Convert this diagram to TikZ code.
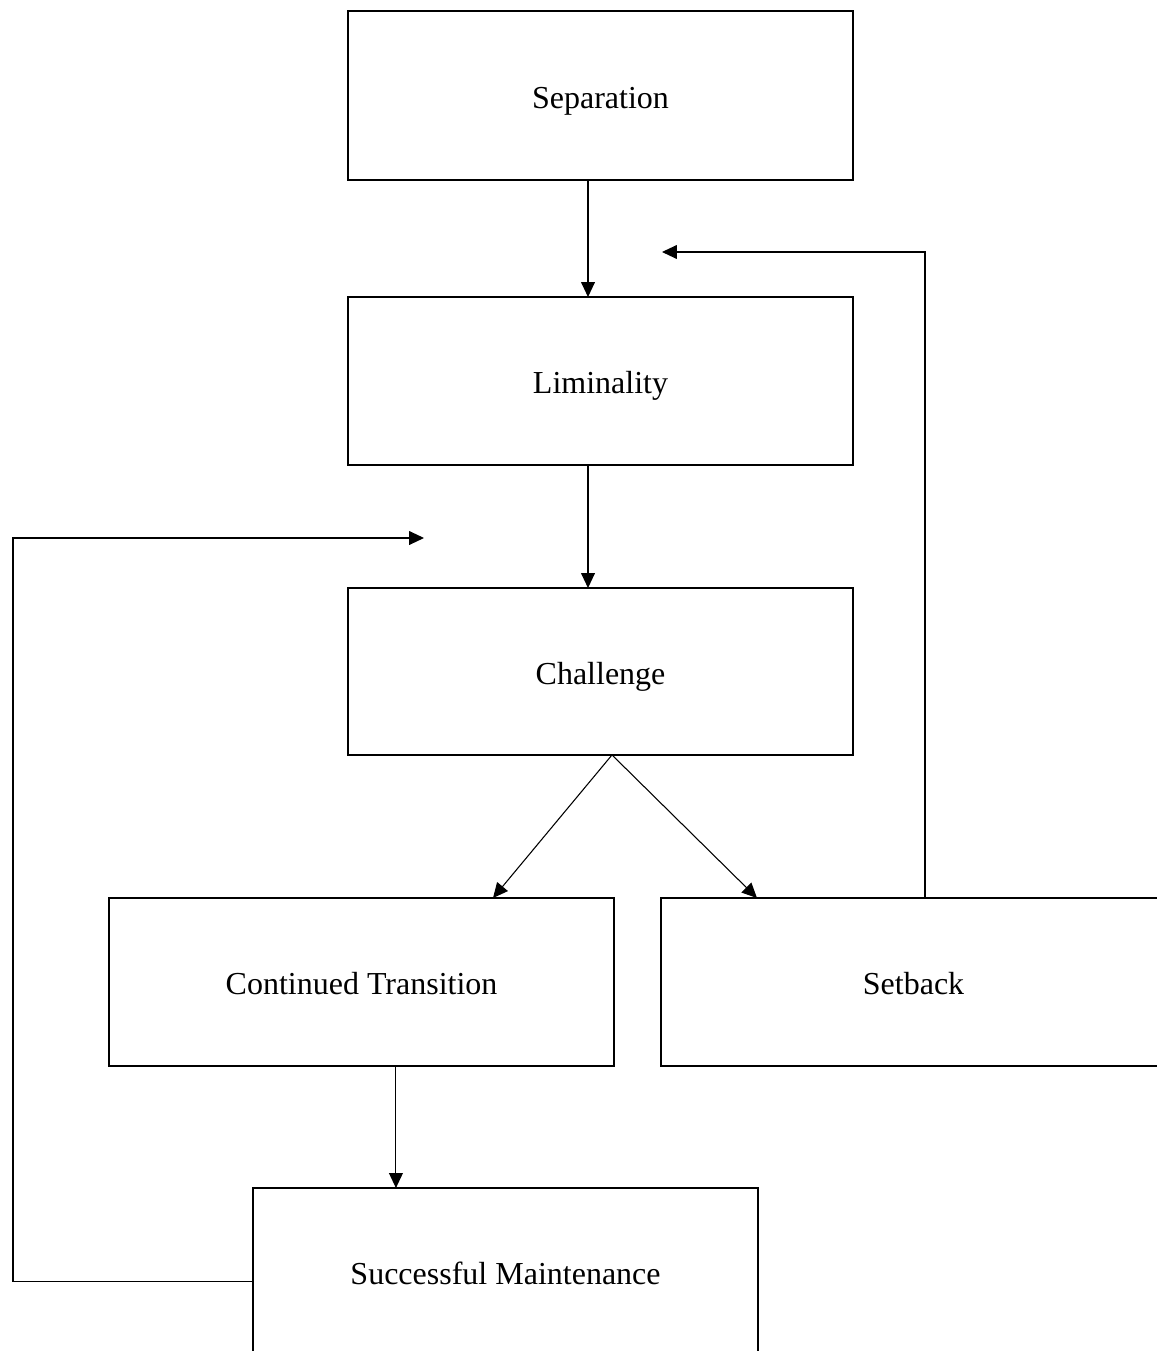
\documentclass[tikz,border=0pt]{standalone}
\usepackage{fontspec}
\setmainfont{Liberation Serif}
\usetikzlibrary{arrows.meta,calc}

\begin{document}
\begin{tikzpicture}[x=0.375pt,y=-0.375pt,
every node/.style={
rectangle,
align = center,
anchor=north west,
inner sep=0pt,
outer sep=0pt,
text height=10.4pt,
text depth=1pt,
font=\fontsize{12}{14}\selectfont,
},
box/.style={
draw,
line width=0.75pt,
minimum width=189.4pt,
minimum height=63pt,
},
arr/.style={
draw,
line width=0.4pt,
-{Triangle[length=5.6pt,width=5.2pt]},
}]

\useasboundingbox (0,0) rectangle (1157,1351);
\clip (0,0) rectangle (1157,1351);

%stage boxes
\node[box,minimum height=63.4pt](sep)at(348,11){Separation};
\node[box](lim)at(348,297){Liminality};
\node[box,minimum height=62.6pt](chal)at(348,588){Challenge};
\node[box](cont)at(109,898){Continued Transition};
\node[box](setb)at(661,898){Setback};
\node[box](succ)at(253,1188){Successful Maintenance};

%loose ends of the return arrows
\coordinate(backtolim)at(662,252);
\coordinate(backtochal)at(424,538);

%main flow
\draw[arr]([xshift=-4.7pt]sep.south)--([xshift=-4.7pt]lim.north);
\draw[arr]([xshift=-4.7pt]lim.south)--([xshift=-4.7pt]chal.north);
\draw[arr]([xshift=4.3pt]chal.south)--([xshift=49.3pt]cont.north);
\draw[arr]([xshift=4.3pt]chal.south)--([xshift=-58.7pt]setb.north);
\draw[arr]([xshift=12.9pt]cont.south)--([xshift=12.9pt]cont.south |- succ.north);

%return arrows
\draw[arr]([xshift=4.3pt]setb.north)|-(backtolim);
\draw[arr]([yshift=-3.4pt]succ.west)-|(13,538)--(backtochal);
\end{tikzpicture}
\end{document}
